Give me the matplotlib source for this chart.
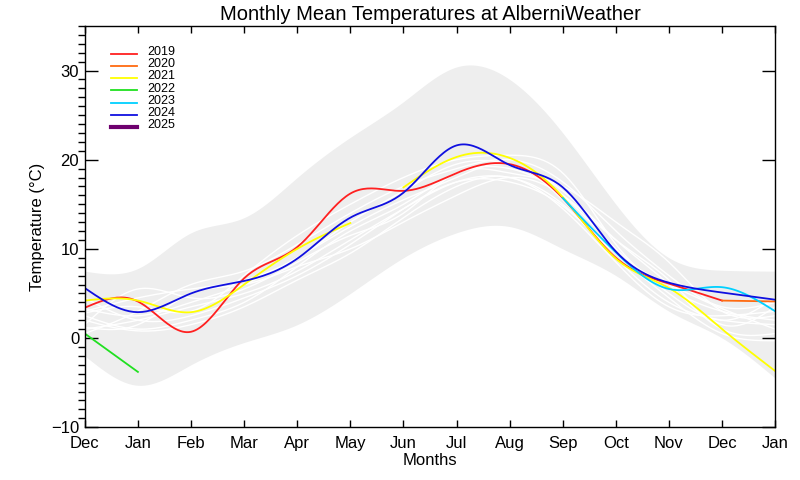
import numpy as np
import matplotlib
matplotlib.use("Agg")
import matplotlib.pyplot as plt
from matplotlib.ticker import MultipleLocator

plt.rcParams['font.family'] = ['Liberation Sans', 'DejaVu Sans']

nan = np.nan

# Months from Dec (previous year) to Jan (next year)
months = ["Dec", "Jan", "Feb", "Mar", "Apr", "May", "Jun",
          "Jul", "Aug", "Sep", "Oct", "Nov", "Dec", "Jan"]

# Gray envelope (record min / max of monthly means)
band_hi = [7.5, 7.8, 11.8, 13.5, 18.0, 22.5, 26.5, 30.4, 29.0, 23.0, 15.0, 9.0, 7.6, 7.5]
band_lo = [-2.0, -5.3, -3.0, -0.5, 1.5, 5.0, 9.0, 11.8, 12.5, 10.0, 7.0, 3.0, 0.0, -4.5]

# Older years (white lines)
old_years = [
    [1.0, 2.0, 3.5, 5.0, 7.5, 11.0, 14.5, 17.5, 18.0, 15.0, 9.0, 4.0, 2.0, 1.5],
    [2.5, 1.0, 2.0, 4.0, 8.0, 12.0, 15.0, 18.5, 19.0, 16.0, 10.0, 5.5, 3.0, 2.0],
    [3.0, 4.5, 5.5, 6.5, 9.0, 13.0, 16.5, 19.5, 19.5, 16.5, 11.0, 6.0, 1.0, 0.5],
    [0.5, 3.0, 6.0, 7.5, 10.5, 14.0, 17.0, 19.0, 20.0, 17.5, 12.0, 7.0, 3.5, 4.0],
    [2.0, 0.8, 1.5, 3.5, 6.5, 9.5, 13.5, 17.0, 18.0, 14.5, 8.5, 3.5, 2.5, 3.0],
    [3.3, 2.5, 4.0, 6.0, 9.0, 12.5, 15.5, 18.0, 19.5, 15.5, 9.5, 4.5, 0.5, -0.3],
    [1.5, 5.5, 4.5, 5.5, 8.5, 11.5, 14.0, 18.5, 18.5, 17.0, 13.0, 8.5, 3.0, 2.5],
    [2.8, 3.5, 3.0, 7.0, 11.5, 15.0, 18.0, 20.0, 20.5, 18.5, 10.5, 5.0, 2.0, 4.5],
    [4.5, 2.0, 2.5, 4.5, 7.0, 10.5, 14.5, 17.5, 17.5, 14.8, 9.5, 6.0, 3.3, 1.0],
    [1.2, 1.5, 5.0, 6.0, 8.0, 10.0, 13.0, 16.0, 18.0, 16.0, 11.0, 6.5, 1.5, 3.5],
]

years = ["2019", "2020", "2021", "2022", "2023", "2024", "2025"]
colors = ["#ff2020", "#ff6a10", "#ffff00", "#20e020", "#00d0ff", "#1010e0", "#6e006e"]
series = [
    [3.4, 4.1, 0.7, 6.7, 10.2, 16.2, 16.5, 18.5, 19.5, 15.7, 9.0, 6.1, 4.2, nan],
    [nan, nan, nan, nan, nan, nan, nan, nan, nan, nan, nan, nan, 4.2, 4.1],
    [4.2, 4.2, 2.9, 6.0, 10.0, 12.9, 16.9, 20.3, 20.2, 15.8, 8.9, 5.6, 1.0, -3.7],
    [0.5, -3.8, nan, nan, nan, nan, nan, nan, nan, nan, nan, nan, nan, nan],
    [nan, nan, nan, nan, nan, nan, nan, nan, nan, 15.7, 9.6, 5.5, 5.7, 3.0],
    [5.6, 2.9, 5.0, 6.4, 8.9, 13.5, 16.3, 21.6, 19.4, 16.9, 9.7, 6.2, 5.1, 4.3],
    [nan] * 14,
]
# 2021 has a gap between May and Jun
gap_2021 = 5


def spline(xs, ys, n=25):
  """Natural cubic spline through the points, for drawing"""
  xs = np.asarray(xs, float)
  ys = np.asarray(ys, float)
  N = len(xs)
  if N < 3:
    return xs, ys
  h = np.diff(xs)
  A = np.zeros((N, N))
  r = np.zeros(N)
  A[0, 0] = A[-1, -1] = 1
  for i in range(1, N - 1):
    A[i, i - 1] = h[i - 1]
    A[i, i] = 2 * (h[i - 1] + h[i])
    A[i, i + 1] = h[i]
    r[i] = 3 * ((ys[i + 1] - ys[i]) / h[i] - (ys[i] - ys[i - 1]) / h[i - 1])
  c = np.linalg.solve(A, r)
  b = (ys[1:] - ys[:-1]) / h - h * (2 * c[:-1] + c[1:]) / 3
  d = (c[1:] - c[:-1]) / (3 * h)
  out_x, out_y = [], []
  for i in range(N - 1):
    t = np.linspace(0, h[i], n, endpoint=(i == N - 2))
    out_x.append(xs[i] + t)
    out_y.append(ys[i] + b[i] * t + c[i] * t ** 2 + d[i] * t ** 3)
  return np.concatenate(out_x), np.concatenate(out_y)


def segments(vals, breaks=()):
  """Split a series into runs of valid values"""
  runs, cur = [], []
  for i, v in enumerate(vals):
    if np.isnan(v):
      if cur: runs.append(cur)
      cur = []
    else:
      cur.append((i, v))
      if i in breaks:
        runs.append(cur)
        cur = []
  if cur: runs.append(cur)
  return runs


x = np.arange(len(months))

fig = plt.figure(figsize=(8, 4.8), dpi=100)
ax = fig.add_axes([0.106, 0.110, 0.863, 0.836])

bx, bhi = spline(x, band_hi)
_, blo = spline(x, band_lo)
ax.fill_between(bx, blo, bhi, color="#eeeeee", lw=0)

for ys in old_years:
  sx, sy = spline(x, ys)
  ax.plot(sx, sy, color="white", lw=1.0)

for k, (vals, col) in enumerate(zip(series, colors)):
  breaks = (gap_2021,) if years[k] == "2021" else ()
  for run in segments(vals, breaks):
    xs, ys = zip(*run)
    sx, sy = spline(xs, ys)
    ax.plot(sx, sy, color=col, lw=1.3)

# legend, drawn by hand to keep the IDL-like tight spacing
for k, (yr, col) in enumerate(zip(years, colors)):
  yy = 0.931 - k * 0.0305
  ax.plot([0.038, 0.076], [yy, yy], color=col, lw=3 if yr == "2025" else 1.3,
          transform=ax.transAxes, clip_on=False)
  ax.text(0.091, yy + 0.004, yr, transform=ax.transAxes, fontsize=9,
          va="center", ha="left")

ax.set_xlim(0, len(months) - 1)
ax.set_ylim(-10, 35)
ax.set_xticks(x)
ax.set_xticklabels(months)
ax.yaxis.set_major_locator(MultipleLocator(10))
ax.yaxis.set_minor_locator(MultipleLocator(1))
ax.tick_params(axis="both", direction="in", top=True, right=True, labelsize=12, width=1)
ax.tick_params(axis="x", length=5, pad=6)
ax.tick_params(axis="y", which="major", length=9.5, pad=4)
ax.tick_params(axis="y", which="minor", length=5, width=1)
for s in ax.spines.values():
  s.set_linewidth(1)

ax.set_title("Monthly Mean Temperatures at AlberniWeather", fontsize=14.5, pad=4)
ax.set_xlabel("Months", fontsize=12, labelpad=2)
ax.set_ylabel("Temperature (\u00b0C)", fontsize=12, labelpad=4)

plt.savefig("out.png", dpi=100)
